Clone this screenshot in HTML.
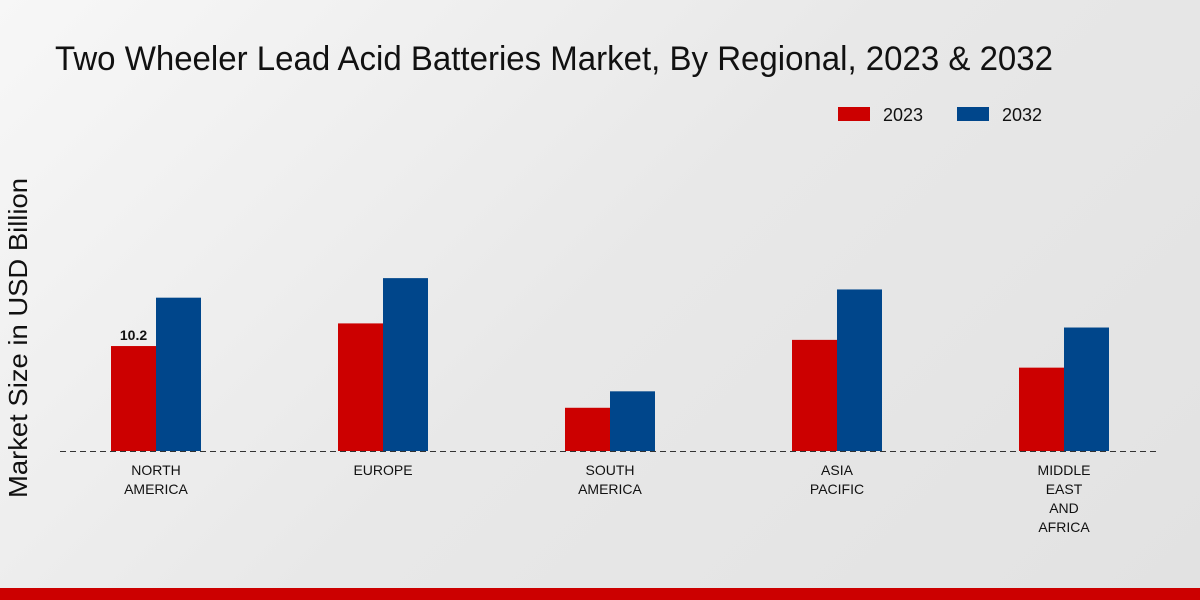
<!DOCTYPE html>
<html><head><meta charset="utf-8"><style>
html,body{margin:0;padding:0;width:1200px;height:600px;overflow:hidden}
body{background:linear-gradient(135deg,#f7f7f7 0%,#e8e8e8 50%,#e2e2e2 100%);font-family:"Liberation Sans","DejaVu Sans",sans-serif}
</style></head><body>
<svg id="chart" width="1200" height="600" xmlns="http://www.w3.org/2000/svg">
<text x="55" y="70" font-size="34" textLength="998" lengthAdjust="spacingAndGlyphs" fill="#111" font-family="Liberation Sans Narrow, Liberation Sans, sans-serif">Two Wheeler Lead Acid Batteries Market, By Regional, 2023 &amp; 2032</text>
<text transform="translate(27,338) rotate(-90)" text-anchor="middle" font-size="26" textLength="320" lengthAdjust="spacingAndGlyphs" fill="#111">Market Size in USD Billion</text>
<g>
<rect x="838" y="107" width="32" height="14" fill="#cc0000"/>
<text x="883" y="121" font-size="18" fill="#111">2023</text>
<rect x="957" y="107" width="32" height="14" fill="#00468b"/>
<text x="1002" y="121" font-size="18" fill="#111">2032</text>
</g>
<line x1="60" y1="451.5" x2="1160" y2="451.5" stroke="#333" stroke-dasharray="6,4" stroke-width="1"/>
<g id="bars"></g>
<rect x="0" y="588" width="1200" height="12" fill="#cc0000"/>
</svg>
<script>
const categories=[["NORTH","AMERICA"],["EUROPE"],["SOUTH","AMERICA"],["ASIA","PACIFIC"],["MIDDLE","EAST","AND","AFRICA"]];
const values2023=[10.2,12.4,4.2,10.8,8.1];
const values2032=[14.9,16.8,5.8,15.7,12.0];
const labels2023=["10.2","","","",""];
const NS="http://www.w3.org/2000/svg";
const g=document.getElementById("bars");
const base=451, scale=10.29, x0=156, step=227, bw=45;
function y(v){return base-v*scale;}
function xc(i){return x0+i*step;}
function mk(t,a){const e=document.createElementNS(NS,t);for(const k in a)e.setAttribute(k,a[k]);g.appendChild(e);return e;}
categories.forEach((c,i)=>{
  const r=mk("rect",{x:xc(i)-bw,y:y(values2023[i]),width:bw,height:values2023[i]*scale,fill:"#cc0000"});
  
  
  const b=mk("rect",{x:xc(i),y:y(values2032[i]),width:bw,height:values2032[i]*scale,fill:"#00468b"});
  
  
  if(labels2023[i]){
    const t=mk("text",{x:xc(i)-bw/2,y:y(values2023[i])-6,"text-anchor":"middle","font-size":"14","font-weight":"bold",fill:"#111"});
    t.textContent=labels2023[i];
    
    
  }
  c.forEach((line,j)=>{
    const t=mk("text",{x:xc(i),y:475+j*19,"text-anchor":"middle","font-size":"14",fill:"#111"});
    t.textContent=line;
    
    
  });
});
</script>
</body></html>
